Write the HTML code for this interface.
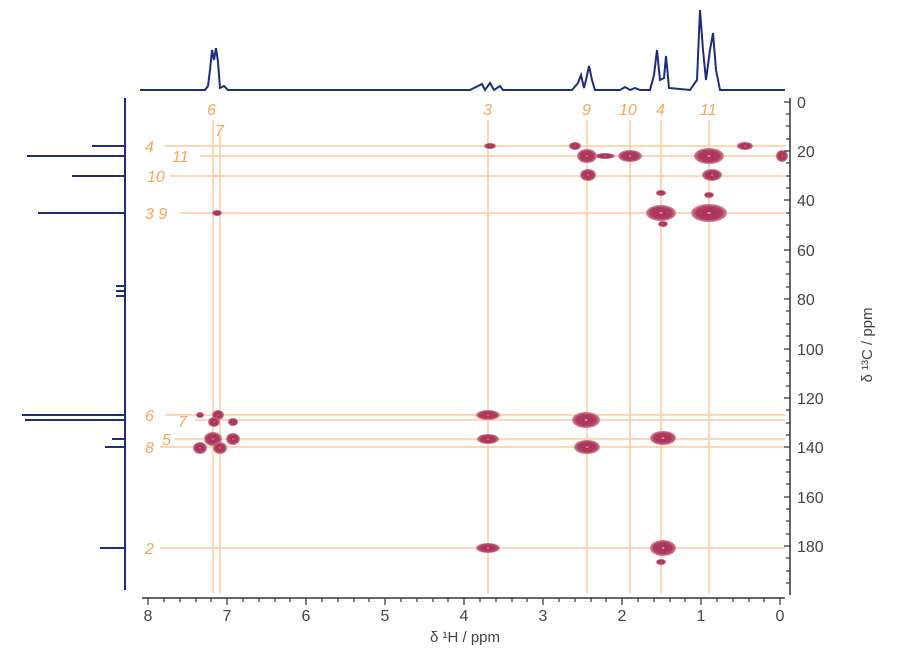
<!DOCTYPE html><html><head><style>body{margin:0;background:#fff}svg{display:block}</style></head><body>
<svg width="911" height="652" viewBox="0 0 911 652" xmlns="http://www.w3.org/2000/svg" font-family="Liberation Sans, sans-serif">
<defs><radialGradient id="g"><stop offset="0" stop-color="#f3d9d9"/><stop offset="0.15" stop-color="#a8345a"/><stop offset="0.7" stop-color="#b03a5c"/><stop offset="1" stop-color="#d08a9c"/></radialGradient></defs>
<g stroke="#fbc48c" stroke-width="1.5" opacity="0.85">
<line x1="165" y1="146" x2="785" y2="146"/><line x1="200" y1="156" x2="785" y2="156"/><line x1="170" y1="176" x2="785" y2="176"/><line x1="180" y1="213" x2="785" y2="213"/>
<line x1="165" y1="415" x2="785" y2="415"/><line x1="195" y1="420" x2="785" y2="420"/><line x1="175" y1="439" x2="785" y2="439"/><line x1="160" y1="447" x2="785" y2="447"/><line x1="160" y1="548" x2="785" y2="548"/>
<line x1="213" y1="120" x2="213" y2="593"/><line x1="220" y1="135" x2="220" y2="593"/><line x1="488" y1="120" x2="488" y2="593"/><line x1="587" y1="120" x2="587" y2="593"/><line x1="630" y1="120" x2="630" y2="593"/><line x1="661" y1="120" x2="661" y2="593"/><line x1="709" y1="120" x2="709" y2="593"/>
</g>
<g fill="#f7a65a" font-style="italic" font-size="16">
<text x="207" y="115">6</text><text x="215" y="136">7</text><text x="483" y="115">3</text><text x="582" y="115">9</text><text x="619" y="115">10</text><text x="656" y="115">4</text><text x="700" y="115">11</text>
<text x="145" y="152">4</text><text x="172" y="162">11</text><text x="147" y="182">10</text><text x="145" y="219">3 9</text>
<text x="145" y="421">6</text><text x="178" y="427">7</text><text x="162" y="445">5</text><text x="145" y="453">8</text><text x="145" y="554">2</text>
</g>
<g fill="url(#g)">
<ellipse cx="490" cy="146" rx="6" ry="3"/><ellipse cx="575" cy="146" rx="6" ry="4"/><ellipse cx="587" cy="156" rx="10" ry="7"/><ellipse cx="605" cy="156" rx="10" ry="3"/><ellipse cx="630" cy="156" rx="12" ry="6"/><ellipse cx="588" cy="175" rx="8" ry="6"/>
<ellipse cx="709" cy="156" rx="15" ry="8"/><ellipse cx="712" cy="175" rx="10" ry="6"/><ellipse cx="745" cy="146" rx="8" ry="4"/><ellipse cx="782" cy="156" rx="6" ry="6"/>
<ellipse cx="661" cy="213" rx="15" ry="8"/><ellipse cx="709" cy="213" rx="18" ry="9"/><ellipse cx="217" cy="213" rx="5" ry="3"/>
<ellipse cx="488" cy="415" rx="12" ry="5"/><ellipse cx="586" cy="420" rx="14" ry="8"/><ellipse cx="488" cy="439" rx="11" ry="5"/><ellipse cx="587" cy="447" rx="13" ry="7"/><ellipse cx="663" cy="438" rx="13" ry="7"/><ellipse cx="663" cy="548" rx="13" ry="8"/><ellipse cx="488" cy="548" rx="12" ry="5"/>
<ellipse cx="218" cy="415" rx="6" ry="5"/><ellipse cx="214" cy="422" rx="6" ry="5"/><ellipse cx="233" cy="422" rx="5" ry="4"/><ellipse cx="213" cy="439" rx="9" ry="7"/><ellipse cx="233" cy="439" rx="7" ry="6"/><ellipse cx="200" cy="448" rx="7" ry="6"/><ellipse cx="220" cy="448" rx="7" ry="6"/>
<ellipse cx="200" cy="415" rx="4" ry="3"/><ellipse cx="661" cy="193" rx="5" ry="3"/><ellipse cx="709" cy="195" rx="5" ry="3"/><ellipse cx="661" cy="562" rx="5" ry="3"/><ellipse cx="663" cy="224" rx="5" ry="3"/>
</g>
<path d="M140 90 L205 90 L208 86 L210 70 L212 50 L214 60 L216 48 L218 62 L220 88 L224 86 L228 90 L470 90 L482 84 L485 90 L490 83 L494 90 L500 86 L503 90 L572 90 L578 83 L581 75 L584 88 L586 80 L589 66 L592 80 L595 90 L620 90 L625 87 L630 90 L635 88 L640 90 L650 90 L654 75 L657 50 L660 80 L664 78 L666 56 L669 88 L690 90 L697 80 L700 10 L703 50 L706 80 L710 50 L713 33 L716 70 L720 90 L785 90" fill="none" stroke="#1f2d7a" stroke-width="2"/>
<g stroke="#1f2d7a" stroke-width="2" fill="none">
<path d="M125 98 L125 590"/>
<path d="M125 146 H92 M125 156 H27 M125 176 H72 M125 213 H38 M125 286 H116 M125 291 H116 M125 296 H116 M125 415 H22 M125 420 H25 M125 439 H112 M125 447 H105 M125 548 H100"/>
</g>
<g stroke="#333" stroke-width="1.5" fill="none">
<path d="M142 598 H785"/><path d="M790 98 V595"/>
</g>
<g fill="#444" font-size="16" text-anchor="middle">
<text x="148" y="621">8</text><text x="227" y="621">7</text><text x="306" y="621">6</text><text x="385" y="621">5</text><text x="464" y="621">4</text><text x="543" y="621">3</text><text x="622" y="621">2</text><text x="701" y="621">1</text><text x="780" y="621">0</text>
</g>
<g fill="#444" font-size="16">
<text x="797" y="108">0</text><text x="797" y="157">20</text><text x="797" y="206">40</text><text x="797" y="256">60</text><text x="797" y="305">80</text><text x="797" y="355">100</text><text x="797" y="404">120</text><text x="797" y="453">140</text><text x="797" y="503">160</text><text x="797" y="552">180</text>
</g>
<text x="465" y="642" fill="#444" font-size="15" text-anchor="middle">δ ¹H / ppm</text>
<text transform="translate(872 345) rotate(-90)" fill="#444" font-size="15" text-anchor="middle">δ ¹³C / ppm</text>
<g stroke="#333" stroke-width="1.2">
<path d="M148 598v7M227 598v7M306 598v7M385 598v7M464 598v7M543 598v7M622 598v7M701 598v7M780 598v7"/>
<path d="M164 598v4M180 598v4M196 598v4M211 598v4M243 598v4M259 598v4M275 598v4M290 598v4M322 598v4M338 598v4M354 598v4M369 598v4M401 598v4M417 598v4M433 598v4M448 598v4M480 598v4M496 598v4M512 598v4M527 598v4M559 598v4M575 598v4M591 598v4M606 598v4M638 598v4M654 598v4M670 598v4M685 598v4M717 598v4M733 598v4M749 598v4M764 598v4"/>
<path d="M790 102h-6M790 151h-6M790 200h-6M790 250h-6M790 299h-6M790 349h-6M790 398h-6M790 447h-6M790 497h-6M790 546h-6"/>
<path d="M790 114h-4M790 126h-4M790 139h-4M790 163h-4M790 176h-4M790 188h-4M790 213h-4M790 225h-4M790 237h-4M790 262h-4M790 274h-4M790 287h-4M790 311h-4M790 324h-4M790 336h-4M790 361h-4M790 373h-4M790 386h-4M790 410h-4M790 423h-4M790 435h-4M790 460h-4M790 472h-4M790 484h-4M790 509h-4M790 521h-4M790 534h-4M790 558h-4M790 571h-4M790 583h-4"/>
</g>
</svg></body></html>
